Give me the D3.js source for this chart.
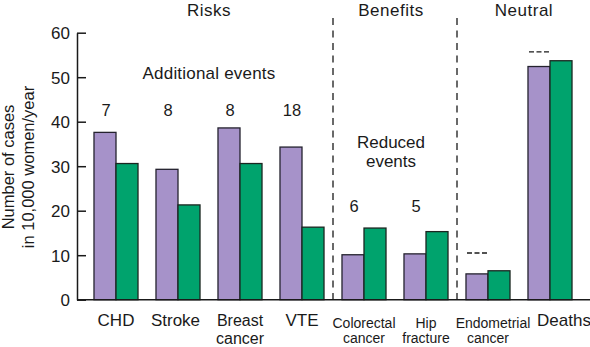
<!DOCTYPE html>
<html>
<head>
<meta charset="utf-8">
<script src="https://cdn.jsdelivr.net/npm/d3@7/dist/d3.min.js"></script>
<style>
  html, body { margin: 0; padding: 0; background: #fff; }
  svg { display: block; font-family: "Liberation Sans", Arial, Helvetica, sans-serif; }
  text { fill: #1a1a1a; }
</style>
</head>
<body>
<svg id="chart" width="590" height="347"></svg>
<script>
// Cases per 10,000 women per year, hormone therapy (purple) vs placebo (green)
const categories = ["CHD", "Stroke", "Breast cancer", "VTE", "Colorectal cancer", "Hip fracture", "Endometrial cancer", "Deaths"];
const categoryLines = [["CHD"], ["Stroke"], ["Breast", "cancer"], ["VTE"], ["Colorectal", "cancer"], ["Hip", "fracture"], ["Endometrial", "cancer"], ["Deaths"]];
const hormoneValues = [37.6, 29.3, 38.6, 34.3, 10.1, 10.3, 5.8, 52.4];
const placeboValues = [30.6, 21.3, 30.6, 16.3, 16.1, 15.3, 6.5, 53.7];
const differenceLabels = ["7", "8", "8", "18", "6", "5", "---", "---"];
const sectionNames = ["Risks", "Benefits", "Neutral"];
const yTicks = [0, 10, 20, 30, 40, 50, 60];

const svg = d3.select("#chart");
const ink = "#1a1a1a";
const purple = "#a692c9";
const green = "#00a36d";

const y = d3.scaleLinear().domain([0, 60]).range([299.7, 32.7]);
const x = d3.scaleBand().domain(categories).range([85, 581])
  .paddingInner(0.29).paddingOuter(0.145);
const sub = d3.scaleBand().domain(["hormone", "placebo"]).range([0, x.bandwidth()]);
const axisX = 77;

// y axis with inward ticks
const yAxis = svg.append("g")
  .attr("transform", `translate(${axisX},0)`)
  .call(d3.axisLeft(y).tickValues(yTicks).tickSize(-9).tickSizeOuter(0).tickPadding(7));
yAxis.select(".domain").attr("stroke", ink).attr("stroke-width", 1.5);
yAxis.selectAll(".tick line").attr("stroke", ink).attr("stroke-width", 1.5);
yAxis.selectAll(".tick text")
  .attr("font-size", 17).attr("fill", ink)
  .attr("font-family", "'Liberation Sans', Arial, sans-serif")
  .attr("dy", "0.36em");

// y axis title
const yTitle = svg.append("text")
  .attr("transform", "translate(13.5,167) rotate(-90)")
  .attr("text-anchor", "middle").attr("font-size", 16.5);
yTitle.append("tspan").attr("x", 0).attr("y", 0).text("Number of cases");
yTitle.append("tspan").attr("x", 0).attr("y", 20).text("in 10,000 women/year");

// bars
const groups = svg.append("g").selectAll("g")
  .data(categories)
  .join("g")
  .attr("transform", d => `translate(${x(d)},0)`);

groups.append("rect")
  .attr("x", sub("hormone"))
  .attr("y", (d, i) => y(hormoneValues[i]))
  .attr("width", sub.bandwidth())
  .attr("height", (d, i) => y(0) - y(hormoneValues[i]))
  .attr("fill", purple).attr("stroke", "#24222e").attr("stroke-width", 1.3);

groups.append("rect")
  .attr("x", sub("placebo"))
  .attr("y", (d, i) => y(placeboValues[i]))
  .attr("width", sub.bandwidth())
  .attr("height", (d, i) => y(0) - y(placeboValues[i]))
  .attr("fill", green).attr("stroke", "#1b2621").attr("stroke-width", 1.3);

// baseline
svg.append("line")
  .attr("x1", axisX).attr("x2", 590)
  .attr("y1", y(0)).attr("y2", y(0))
  .attr("stroke", ink).attr("stroke-width", 1.5);

// section dividers
const dividers = [
  (x("VTE") + x.bandwidth() + x("Colorectal cancer")) / 2,
  (x("Hip fracture") + x.bandwidth() + x("Endometrial cancer")) / 2
];
svg.selectAll(".divider")
  .data(dividers)
  .join("line")
  .attr("class", "divider")
  .attr("x1", d => d).attr("x2", d => d)
  .attr("y1", 18).attr("y2", y(0))
  .attr("stroke", ink).attr("stroke-width", 1.3)
  .attr("stroke-dasharray", "7,5.5");

// section headers
const headerX = [209, 391, 524];
svg.selectAll(".section")
  .data(sectionNames)
  .join("text")
  .attr("class", "section")
  .attr("x", (d, i) => headerX[i]).attr("y", 15.5)
  .attr("text-anchor", "middle").attr("font-size", 17)
  .attr("letter-spacing", 0.5)
  .text(d => d);

// group captions
svg.append("text")
  .attr("x", 209).attr("y", 79)
  .attr("text-anchor", "middle").attr("font-size", 17)
  .attr("letter-spacing", 0.2)
  .text("Additional events");

const reduced = svg.append("text")
  .attr("text-anchor", "middle").attr("font-size", 17);
reduced.append("tspan").attr("x", 391).attr("y", 147.7).text("Reduced");
reduced.append("tspan").attr("x", 391).attr("y", 166.7).text("events");

// difference labels above the hormone bars (heights in value units)
const labelLevel = [41.2, 41.2, 41.2, 41.2, 19.8, 19.8, 10.5, 55.7];

groups.each(function (d, i) {
  const g = d3.select(this);
  const cx = sub("hormone") + sub.bandwidth() / 2;
  if (differenceLabels[i] === "---") {
    // three short dashes: no significant difference
    g.append("line")
      .attr("x1", cx - 10).attr("x2", cx + 10)
      .attr("y1", y(labelLevel[i])).attr("y2", y(labelLevel[i]))
      .attr("stroke", ink).attr("stroke-width", 1.3)
      .attr("stroke-dasharray", "5,2.5");
  } else {
    g.append("text")
      .attr("x", cx + 1).attr("y", y(labelLevel[i]))
      .attr("text-anchor", "middle").attr("font-size", 16.5)
      .text(differenceLabels[i]);
  }
});

// category labels
const smallLabels = new Set(["Colorectal cancer", "Hip fracture", "Endometrial cancer"]);
const labelShift = { "Stroke": -2.5, "Deaths": 14 };
const firstLineShift = { "Endometrial cancer": 5 };

categories.forEach((c, i) => {
  const small = smallLabels.has(c);
  const twoLine = categoryLines[i].length > 1;
  const size = small ? 14 : (twoLine ? 16 : 17);
  const top = small ? 327.5 : (twoLine ? 325.5 : 326);
  const step = small ? 15.5 : 18;
  const cx = x(c) + x.bandwidth() / 2 + (labelShift[c] || 0);
  const t = svg.append("text")
    .attr("text-anchor", "middle")
    .attr("font-size", size);
  categoryLines[i].forEach((line, j) => {
    t.append("tspan")
      .attr("x", cx + (j === 0 ? (firstLineShift[c] || 0) : 0))
      .attr("y", top + j * step)
      .text(line);
  });
});
</script>
</body>
</html>
